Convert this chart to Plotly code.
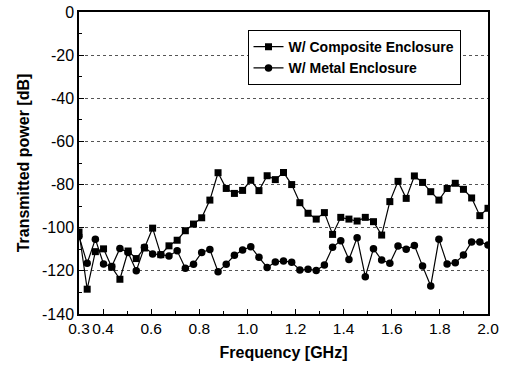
import numpy as np
import plotly.graph_objects as go

# Frequency sweep: 51 points from 0.3 to 2.0 GHz
freq_ghz = list(np.round(np.linspace(0.3, 2.0, 51), 3))

composite_db = [
    -102.0, -128.5, -111.1, -109.8, -118.3, -123.9, -110.8, -114.3, -109.4, -100.2,
    -112.5, -108.4, -105.8, -101.4, -98.3, -95.4, -87.2, -74.5, -81.8, -84.1,
    -82.7, -78.0, -82.8, -75.9, -77.7, -74.4, -80.0, -88.4, -93.3, -96.0,
    -93.0, -103.1, -95.2, -96.0, -96.9, -95.2, -97.2, -103.4, -87.9, -78.5,
    -86.4, -76.0, -79.0, -83.3, -87.2, -81.8, -79.4, -82.2, -86.2, -94.4,
    -91.0,
]

metal_db = [
    -104.0, -116.5, -105.3, -116.8, -118.0, -109.6, -111.5, -120.0, -109.0, -112.2,
    -112.5, -113.1, -110.7, -118.8, -116.9, -111.5, -110.1, -120.4, -116.9, -112.8,
    -110.3, -108.8, -113.7, -118.4, -115.9, -115.4, -116.0, -119.6, -119.3, -119.8,
    -117.3, -109.1, -106.0, -114.7, -104.6, -122.7, -109.7, -115.0, -116.5, -108.5,
    -110.0, -108.2, -117.8, -127.0, -105.4, -116.8, -116.2, -112.7, -106.6, -106.6,
    -108.0,
]

x_tick_vals = [0.3, 0.4, 0.6, 0.8, 1.0, 1.2, 1.4, 1.6, 1.8, 2.0]
x_tick_text = ["0.3", "0.4", "0.6", "0.8", "1.0", "1.2", "1.4", "1.6", "1.8", "2.0"]
x_minor_vals = [0.5, 0.7, 0.9, 1.1, 1.3, 1.5, 1.7, 1.9]
y_tick_vals = [0, -20, -40, -60, -80, -100, -120, -140]
y_tick_text = ["0", "-20", "-40", "-60", "-80", "-100", "-120", "-140"]
y_minor_vals = [-10, -30, -50, -70, -90, -110, -130]

FONT = "Liberation Sans, Arial, sans-serif"

fig = go.Figure()
fig.add_trace(go.Scatter(
    x=freq_ghz, y=composite_db, mode="lines+markers",
    name="W/ Composite Enclosure",
    line=dict(color="black", width=1.2),
    marker=dict(symbol="square", size=7, color="black"),
))
fig.add_trace(go.Scatter(
    x=freq_ghz, y=metal_db, mode="lines+markers",
    name="W/ Metal Enclosure",
    line=dict(color="black", width=1.2),
    marker=dict(symbol="circle", size=7.5, color="black"),
))

fig.update_layout(
    width=508, height=371,
    margin=dict(l=79, r=20, t=12, b=57),
    paper_bgcolor="white", plot_bgcolor="white",
    font=dict(family=FONT, size=16, color="black"),
    showlegend=True,
    legend=dict(
        x=0.412, y=0.94, xanchor="left", yanchor="top",
        bgcolor="white", bordercolor="black", borderwidth=1,
        font=dict(family=FONT, size=14, color="black", weight="bold"),
        tracegroupgap=0, itemwidth=30,
    ),
)

fig.update_xaxes(
    range=[0.3, 2.0], automargin=False,
    tickmode="array", tickvals=x_tick_vals, ticktext=x_tick_text, tickangle=0,
    ticks="inside", ticklen=5, tickwidth=1, tickcolor="black",
    minor=dict(tickmode="array", tickvals=x_minor_vals, ticks="inside",
               ticklen=3, tickcolor="black", showgrid=False),
    showline=True, linecolor="black", linewidth=1.5, mirror=True,
    showgrid=False, zeroline=False,
    tickfont=dict(size=15.5),
    title=dict(text="Frequency [GHz]", font=dict(size=16, weight="bold"), standoff=10),
)

fig.update_yaxes(
    range=[-140, 0], automargin=False,
    tickmode="array", tickvals=y_tick_vals, ticktext=y_tick_text,
    ticks="inside", ticklen=5, tickwidth=1, tickcolor="black",
    minor=dict(tickmode="array", tickvals=y_minor_vals, ticks="inside",
               ticklen=3, tickcolor="black", showgrid=False),
    showline=True, linecolor="black", linewidth=1.5, mirror=True,
    showgrid=True, gridcolor="#555555", gridwidth=1, griddash="dot",
    zeroline=False,
    tickfont=dict(size=16),
    title=dict(text="Transmitted power [dB]", font=dict(size=16, weight="bold"), standoff=8),
)

fig.write_html("out.html")
